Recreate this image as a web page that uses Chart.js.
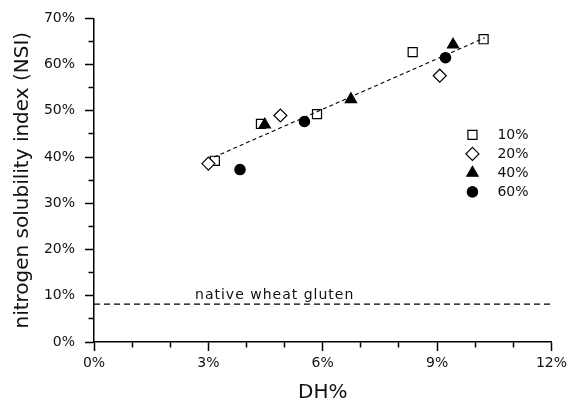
<!DOCTYPE html>
<html>
<head>
<meta charset="utf-8">
<script src="https://cdn.jsdelivr.net/npm/chart.js@4.4.1/dist/chart.umd.min.js"></script>
<style>
  html, body { margin: 0; padding: 0; background: #fff; }
  #wrap { width: 571px; height: 401px; }
</style>
</head>
<body>
<div id="wrap"><canvas id="nsiChart" width="571" height="401"></canvas></div>
<script>
// DH% (x) and NSI % (y) for each hydrolysis level
const seriesLabels = ['10%', '20%', '40%', '60%'];
const dh10 = [3.17, 4.38, 5.85, 8.36, 10.22];
const nsi10 = [39.2, 47.2, 49.3, 62.7, 65.5];
const dh20 = [3.0, 4.89, 9.07];
const nsi20 = [38.6, 49.0, 57.6];
const dh40 = [4.48, 6.74, 9.42];
const nsi40 = [47.0, 52.5, 64.3];
const dh60 = [3.83, 5.52, 9.22];
const nsi60 = [37.3, 47.7, 61.5];

// fitted trend line end points
const trendDH = [3.15, 10.25];
const trendNSI = [40.0, 65.8];

// reference level for unmodified gluten
const glutenNSI = 8.2;
const glutenLabel = 'native wheat gluten';

const xTicksMax = 12;
const yTicksMax = 70;

const FONT = 'DejaVu Sans';

function pts(xs, ys) {
    return xs.map((x, i) => ({ x: x, y: ys[i] }));
}

const markerStyles = [
    { pointStyle: 'rect', pointRadius: 6.4, backgroundColor: '#fff', borderColor: '#000' },
    { pointStyle: 'rectRot', pointRadius: 6.5, backgroundColor: '#fff', borderColor: '#000' },
    { pointStyle: 'triangle', pointRadius: 6.5, backgroundColor: '#000', borderColor: '#000' },
    { pointStyle: 'circle', pointRadius: 5.2, backgroundColor: '#000', borderColor: '#000' },
];

const seriesData = [pts(dh10, nsi10), pts(dh20, nsi20), pts(dh40, nsi40), pts(dh60, nsi60)];

const markerSets = seriesData.map((d, i) => ({
    type: 'scatter',
    label: seriesLabels[i],
    data: d,
    pointStyle: markerStyles[i].pointStyle,
    pointRadius: markerStyles[i].pointRadius,
    pointHoverRadius: markerStyles[i].pointRadius,
    pointBackgroundColor: markerStyles[i].backgroundColor,
    pointBorderColor: markerStyles[i].borderColor,
    pointBorderWidth: 1.2,
    showLine: false,
    order: 4 - i,
}));

// legend in the right part of the plot, same markers as the data
const markerLegend = {
    id: 'markerLegend',
    afterDatasetsDraw(chart) {
        const ctx = chart.ctx;
        const area = chart.chartArea;
        const mx = area.right - 79;
        const tx = area.right - 54;
        const y0 = area.top + 116.5;
        const gap = 19;
        ctx.save();
        ctx.font = '14px "' + FONT + '"';
        ctx.textBaseline = 'middle';
        ctx.textAlign = 'left';
        markerSets.forEach((ds, i) => {
            const y = y0 + i * gap;
            ctx.fillStyle = ds.pointBackgroundColor;
            ctx.strokeStyle = ds.pointBorderColor;
            ctx.lineWidth = 1.2;
            Chart.helpers.drawPoint(ctx, {
                pointStyle: ds.pointStyle,
                radius: ds.pointRadius,
                rotation: 0,
                borderWidth: 1.2,
            }, mx, y);
            ctx.fillStyle = '#111';
            ctx.fillText(ds.label, tx, y);
        });
        ctx.restore();
    },
};

// caption above the gluten reference line
const glutenCaption = {
    id: 'glutenCaption',
    afterDatasetsDraw(chart) {
        const ctx = chart.ctx;
        const xs = chart.scales.x;
        const ys = chart.scales.y;
        ctx.save();
        ctx.font = '14px "' + FONT + '"';
        ctx.letterSpacing = '1px';
        ctx.fillStyle = '#111';
        ctx.textBaseline = 'middle';
        ctx.textAlign = 'left';
        ctx.fillText(glutenLabel, xs.getPixelForValue(2.65), ys.getPixelForValue(glutenNSI) - 9);
        ctx.restore();
    },
};

const chart = new Chart(document.getElementById('nsiChart'), {
    type: 'scatter',
    data: {
        datasets: [
            {
                type: 'line',
                label: 'trend',
                data: pts(trendDH, trendNSI),
                borderColor: '#000',
                borderWidth: 1.1,
                borderDash: [4, 3],
                pointRadius: 0,
                fill: false,
                order: 0,
            },
            {
                type: 'line',
                label: 'gluten',
                data: [{ x: 0, y: glutenNSI }, { x: xTicksMax, y: glutenNSI }],
                borderColor: '#000',
                borderWidth: 1.1,
                borderDash: [6, 4],
                pointRadius: 0,
                fill: false,
                order: 0,
            },
            ...markerSets,
        ],
    },
    options: {
        responsive: false,
        animation: false,
        devicePixelRatio: 1,
        layout: { padding: { left: 0, right: 15, top: 18, bottom: 0 } },
        plugins: {
            legend: { display: false },
            tooltip: { enabled: false },
        },
        scales: {
            x: {
                type: 'linear',
                min: 0,
                max: xTicksMax,
                afterFit(scale) { scale.height = 59; },
                border: { display: true, color: '#000', width: 1.5 },
                grid: {
                    drawOnChartArea: false,
                    drawTicks: true,
                    tickLength: 9,
                    tickWidth: 1.5,
                    tickColor: '#000',
                    tickBorderDash: (c) => (c.tick && Math.round(c.tick.value) % 3 !== 0 ? [5, 100] : []),
                },
                ticks: {
                    stepSize: 1,
                    padding: 4,
                    color: '#111',
                    font: { family: FONT, size: 14 },
                    maxRotation: 0,
                    autoSkip: false,
                    callback: (v) => (Math.round(v) % 3 === 0 ? Math.round(v) + '%' : ''),
                },
                title: {
                    display: true,
                    text: 'DH%',
                    color: '#111',
                    font: { family: FONT, size: 20, lineHeight: 1 },
                    padding: { top: 0, bottom: -2 },
                },
            },
            y: {
                type: 'linear',
                min: 0,
                max: yTicksMax,
                afterFit(scale) { scale.width = 94; },
                border: { display: true, color: '#000', width: 1.5 },
                grid: {
                    drawOnChartArea: false,
                    drawTicks: true,
                    tickLength: 9,
                    tickWidth: 1.5,
                    tickColor: '#000',
                    tickBorderDash: (c) => (c.tick && Math.round(c.tick.value) % 10 !== 0 ? [0, 3.5, 5, 100] : []),
                },
                ticks: {
                    stepSize: 5,
                    padding: 10,
                    color: '#111',
                    font: { family: FONT, size: 14 },
                    autoSkip: false,
                    callback: (v) => (Math.round(v) % 10 === 0 ? Math.round(v) + '%' : ''),
                },
                title: {
                    display: true,
                    text: 'nitrogen solubility index (NSI)',
                    color: '#111',
                    font: { family: FONT, size: 20, lineHeight: 1 },
                    padding: { top: 13, bottom: 0 },
                },
            },
        },
    },
    plugins: [markerLegend, glutenCaption],
});
</script>
</body>
</html>
